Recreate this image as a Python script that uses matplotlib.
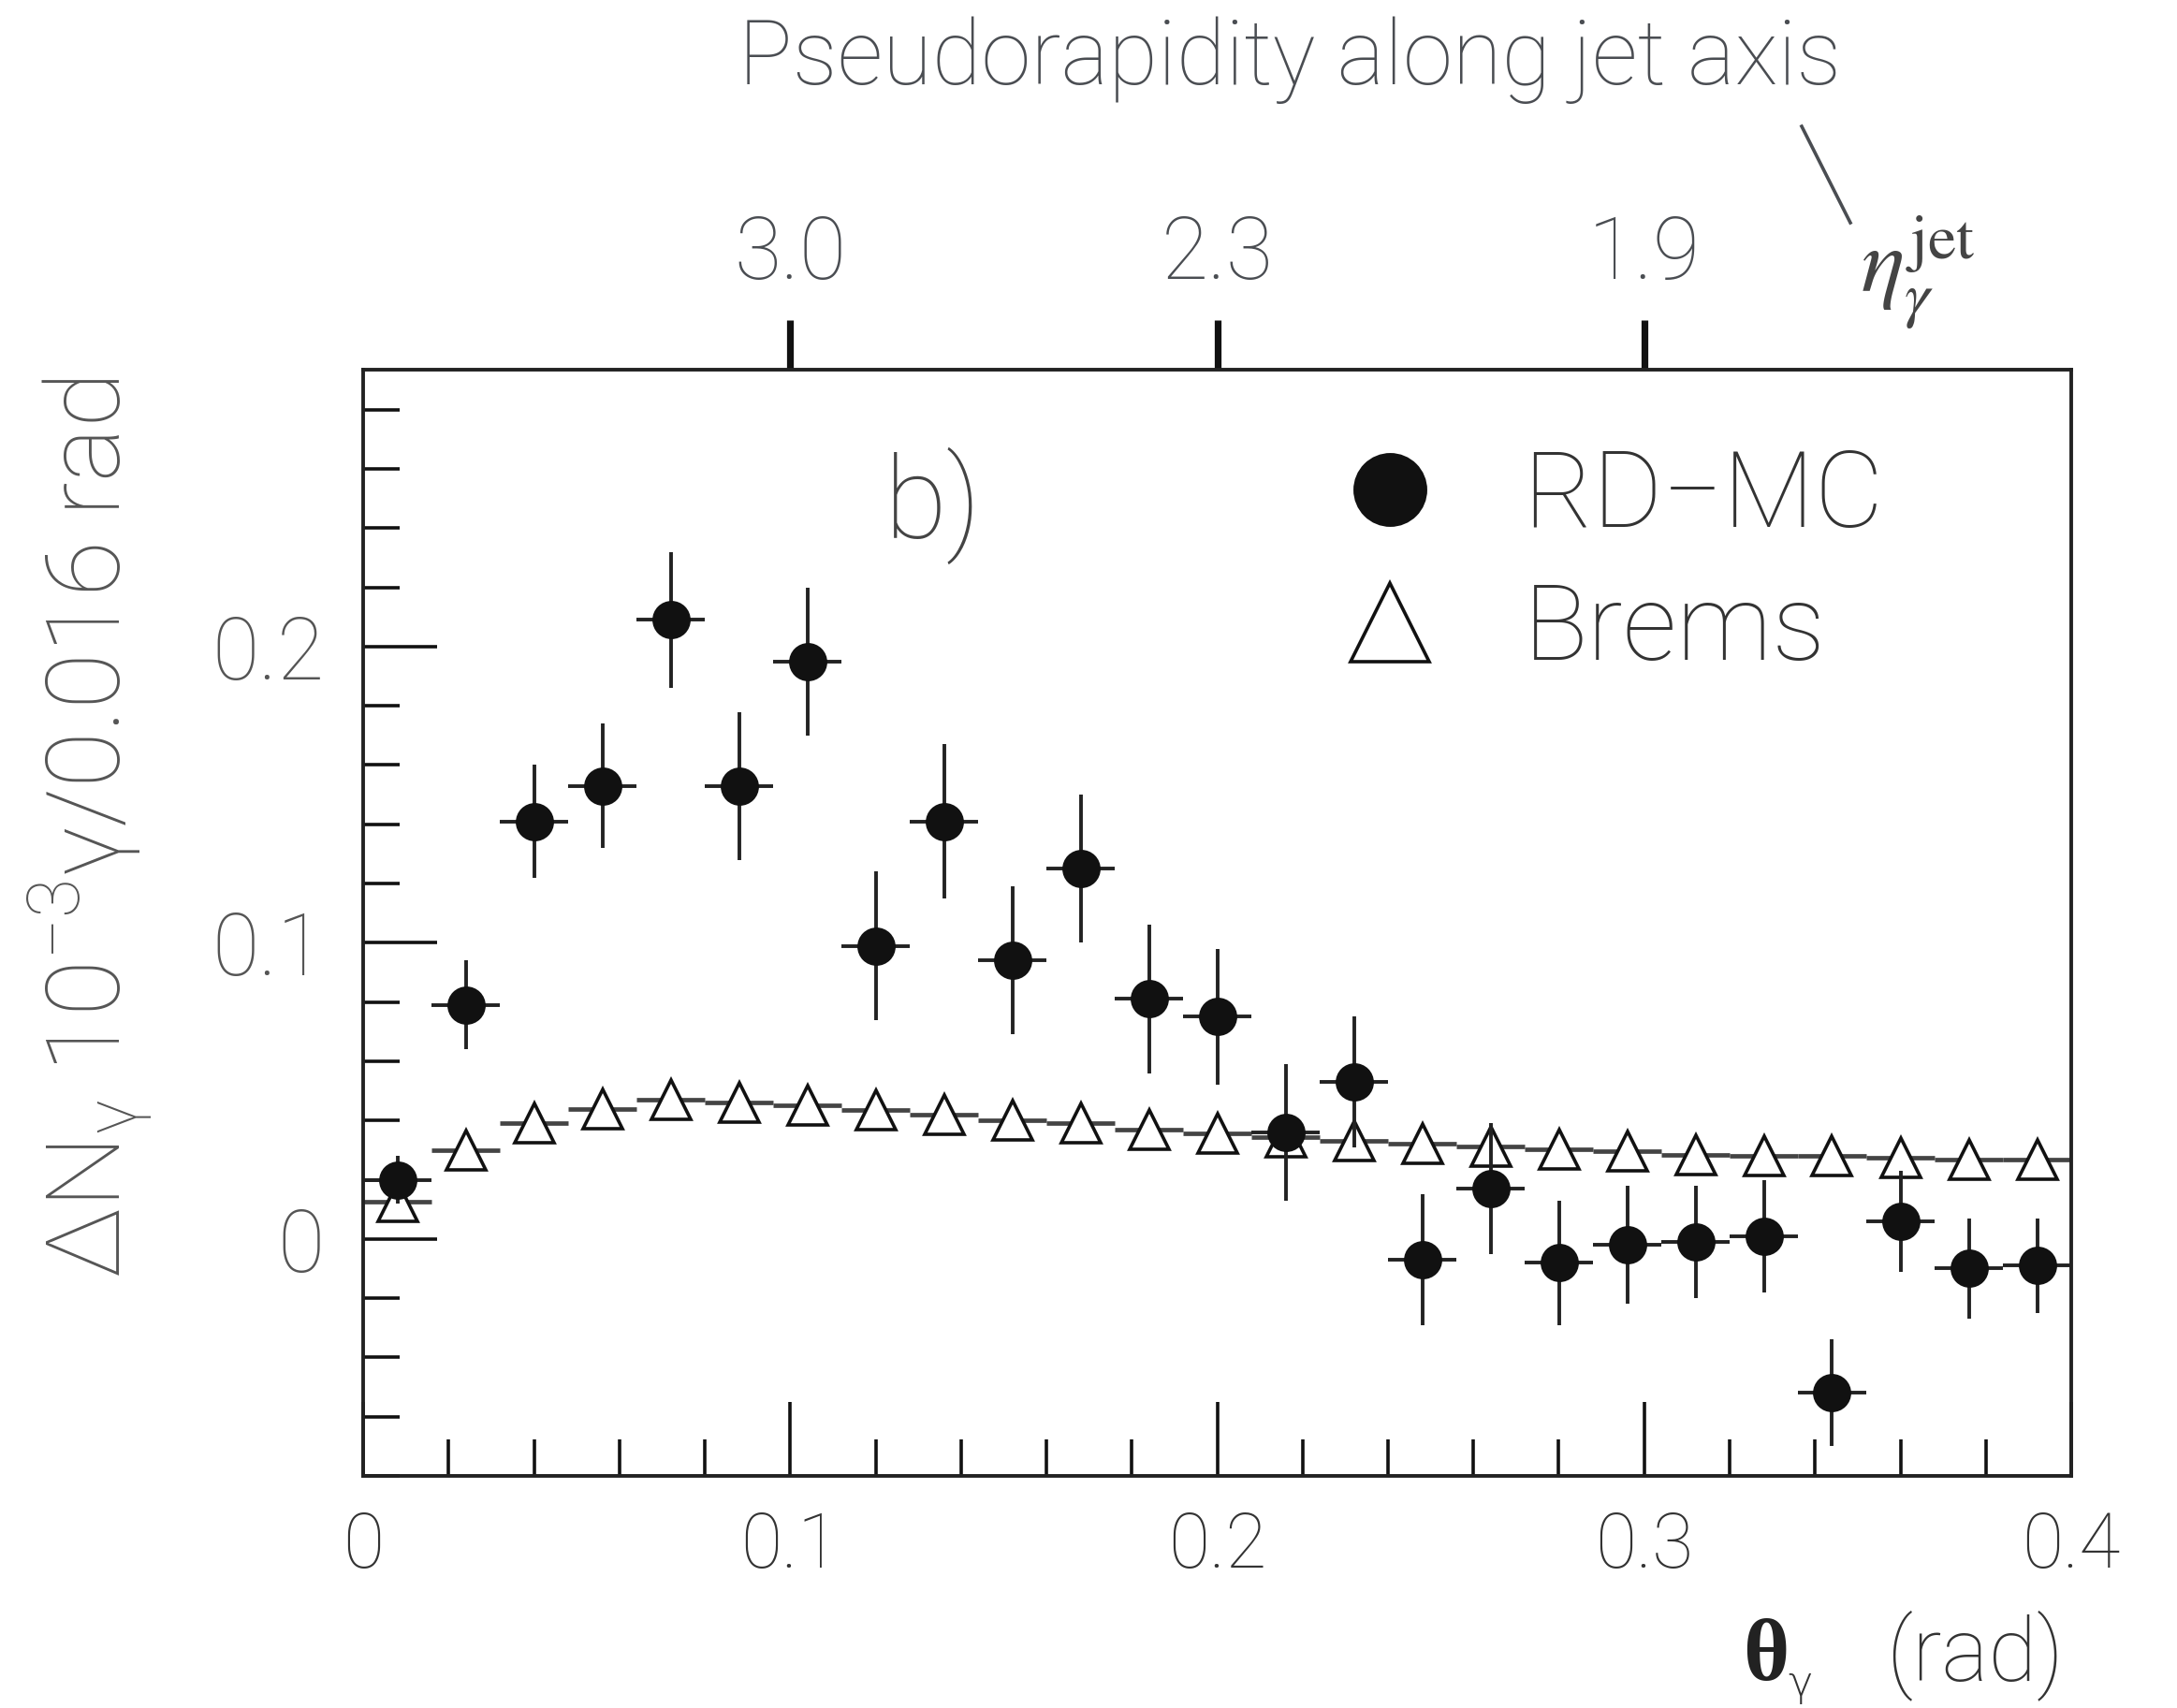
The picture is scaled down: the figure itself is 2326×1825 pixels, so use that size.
import matplotlib.pyplot as plt
from matplotlib.lines import Line2D
from matplotlib.ticker import MultipleLocator

# bin centres (rad), bin width 0.016
theta = [0.008, 0.024, 0.040, 0.056, 0.072, 0.088, 0.104, 0.120, 0.136, 0.152,
         0.168, 0.184, 0.200, 0.216, 0.232, 0.248, 0.264, 0.280, 0.296, 0.312,
         0.328, 0.344, 0.360, 0.376, 0.392]
half_bin = 0.008

rdmc = [0.020, 0.079, 0.141, 0.153, 0.209, 0.153, 0.195, 0.099, 0.141, 0.094,
        0.125, 0.081, 0.075, 0.036, 0.053, -0.007, 0.017, -0.008, -0.002, -0.001,
        0.001, -0.052, 0.006, -0.010, -0.009]
rdmc_err = [0.008, 0.015, 0.019, 0.021, 0.023, 0.025, 0.025, 0.025, 0.026, 0.025,
            0.025, 0.025, 0.023, 0.023, 0.022, 0.022, 0.022, 0.021, 0.020, 0.019,
            0.019, 0.018, 0.017, 0.017, 0.016]

brems = [0.0125, 0.030, 0.039, 0.044, 0.047, 0.046, 0.045, 0.0435, 0.042, 0.040,
         0.039, 0.037, 0.0356, 0.0344, 0.0332, 0.0323, 0.0311, 0.0304, 0.0296, 0.0285,
         0.0281, 0.0280, 0.0275, 0.0269, 0.0267]

x_ticks = [0, 0.1, 0.2, 0.3, 0.4]
x_ticklabels = ['0', '0.1', '0.2', '0.3', '0.4']
y_ticks = [0, 0.1, 0.2]
y_ticklabels = ['0', '0.1', '0.2']
eta_pos = [0.1, 0.2, 0.3]
eta_labels = ['3.0', '2.3', '1.9']

plt.rcParams['font.family'] = ['Roboto', 'DejaVu Sans']
plt.rcParams['font.weight'] = 'light'

W, H = 2326, 1825
fig = plt.figure(figsize=(W / 200, H / 200), dpi=200)
ax = fig.add_axes([388 / W, 1 - 1577 / H, (2213 - 388) / W, (1577 - 395) / H])

ax.errorbar(theta, brems, xerr=half_bin, fmt='^', ms=15, mfc='white', mec='#111',
            mew=1.3, ecolor='#444', elinewidth=1.7, capsize=0, zorder=2)
ax.errorbar(theta, rdmc, xerr=half_bin, yerr=rdmc_err, fmt='o', ms=13.7, color='#111',
            ecolor='#222', elinewidth=1.4, capsize=0, zorder=3)

ax.set_xlim(0, 0.4)
ax.set_ylim(-0.08, 0.2935)
ax.set_xticks(x_ticks, x_ticklabels)
ax.set_yticks(y_ticks, y_ticklabels)
ax.xaxis.set_minor_locator(MultipleLocator(0.02))
ax.yaxis.set_minor_locator(MultipleLocator(0.02))
ax.tick_params(which='both', direction='in', top=False, right=False, width=1.3, color='#111')
ax.tick_params(which='major', length=28.5)
ax.tick_params(which='minor', length=14)
ax.tick_params(axis='x', labelsize=29, pad=13, labelcolor='#333')
ax.tick_params(axis='y', labelsize=33, pad=15, labelcolor='#555')
for s in ax.spines.values():
    s.set_linewidth(1.4)
    s.set_color('#222')

sec = ax.secondary_xaxis('top')
sec.set_xticks(eta_pos, eta_labels)
sec.tick_params(direction='out', length=19, width=2.6, color='#111', labelsize=33,
                pad=9, labelcolor='#4a4d52')

handles = [Line2D([], [], marker='o', ls='none', ms=27.4, color='#111'),
           Line2D([], [], marker='^', ls='none', ms=30, mfc='white', mec='#111', mew=1.3)]
ax.legend(handles, ['RD\u2212MC', 'Brems'], loc='upper left', bbox_to_anchor=(0.570, 0.930),
          frameon=False, fontsize=41, handlelength=1.0, handletextpad=0.75,
          labelspacing=0.3, borderpad=0, borderaxespad=0, labelcolor='#333')

fig.text(945 / W, 1 - 575 / H, 'b)', fontsize=44, color='#444', va='baseline')

fig.text(1378 / W, 1 - 90 / H, 'Pseudorapidity along jet axis', fontsize=34.6,
         color='#4a4d52', ha='center', va='baseline')
fig.text(1988 / W, 1 - 312 / H, r'$\eta_{\gamma}^{\rm jet}$', math_fontfamily='stix',
         fontsize=35, color='#444', ha='left', va='baseline')
fig.add_artist(Line2D([1925 / W, 1977 / W], [1 - 135 / H, 1 - 238 / H],
                      transform=fig.transFigure, color='#4a4d52', lw=1.3))

fig.text(98 / W, 1 - 885 / H,
         r'ΔN$_{\mathregular{γ}}$ 10$^{\mathregular{-3}}$γ/0.016 rad',
         fontsize=39.5, color='#555', rotation=90, ha='center', va='center')

fig.text(1862 / W, 1 - 1795 / H, '\u03b8', family='Liberation Serif', fontweight='bold',
         fontsize=34, color='#222', va='baseline')
fig.text(1910 / W, 1 - 1812 / H, '\u03b3', family='DejaVu Sans', fontsize=16,
         color='#333', va='baseline')
fig.text(2205 / W, 1 - 1795 / H, '(rad)', fontsize=34, color='#333', ha='right', va='baseline')

fig.savefig('out.png', dpi=200)
